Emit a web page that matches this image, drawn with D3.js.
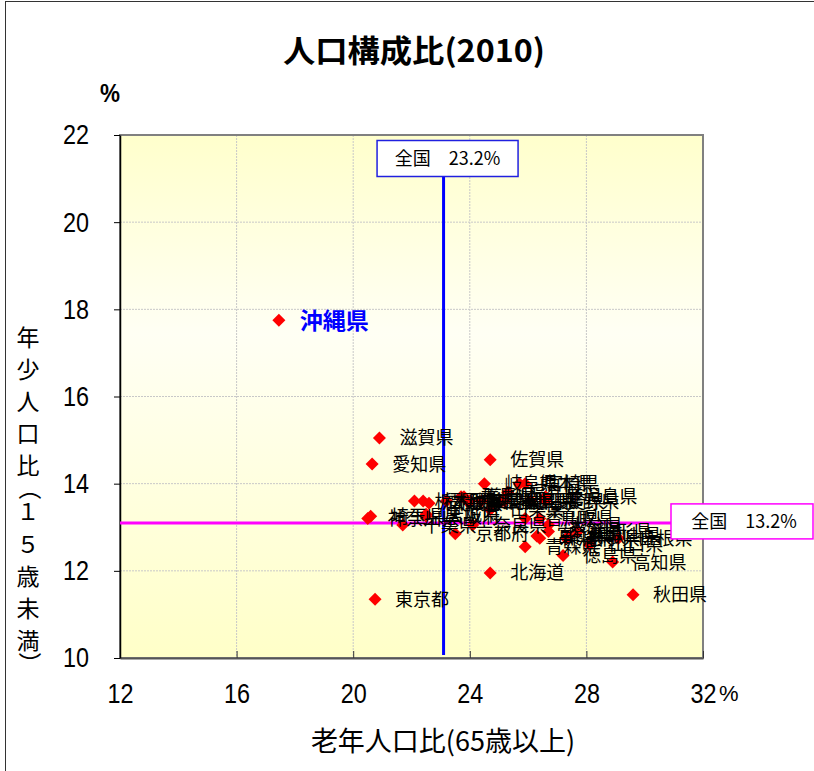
<!DOCTYPE html>
<html>
<head>
<meta charset="utf-8">
<script src="https://cdn.jsdelivr.net/npm/d3@7"></script>
<style>
  body { margin: 0; background: #fff; }
</style>
</head>
<body>
<div id="chart"></div>
<script>
// prefecture names, elderly ratio (65+) and youth ratio (<15), 2010, in %
var prefectures = ["北海道","青森県","岩手県","宮城県","秋田県","山形県","福島県","茨城県","栃木県","群馬県",
  "埼玉県","千葉県","東京都","神奈川県","新潟県","富山県","石川県","福井県","山梨県","長野県",
  "岐阜県","静岡県","愛知県","三重県","滋賀県","京都府","大阪府","兵庫県","奈良県","和歌山県",
  "鳥取県","島根県","岡山県","広島県","山口県","徳島県","香川県","愛媛県","高知県","福岡県",
  "佐賀県","長崎県","熊本県","大分県","宮崎県","鹿児島県","沖縄県"];
var oldRatio = [24.7,25.9,27.3,22.5,29.6,27.7,25.1,22.6,22.1,23.7,
  20.6,21.7,20.75,20.5,26.4,26.3,23.8,25.3,24.7,26.6,
  24.5,23.9,20.65,24.4,20.9,23.5,22.5,23.2,24.1,27.4,
  26.4,29.1,25.2,24.0,28.1,27.2,25.9,26.7,28.9,22.4,
  24.7,26.1,25.7,26.7,25.9,26.6,17.45];
var youngRatio = [11.95,12.55,12.75,13.3,11.45,12.9,13.6,13.55,13.6,13.7,
  13.25,13.05,11.35,13.2,12.75,12.8,13.7,13.8,13.4,13.6,
  14.0,13.6,14.45,13.6,15.05,12.85,13.25,13.6,13.05,12.8,
  13.2,12.75,13.6,13.6,12.6,12.35,13.2,12.9,12.2,13.6,
  14.55,13.6,14.0,13.05,14.0,13.7,17.75];
var highlight = "沖縄県";

var xTicks = [12, 16, 20, 24, 28, 32];
var yTicks = [10, 12, 14, 16, 18, 20, 22];

// national reference lines
var nationalOld = 23.1, nationalOldLabel = "全国　23.2%";
var nationalYoung = 13.1, nationalYoungLabel = "全国　13.2%";

var title = "人口構成比(2010)";
var xlabel = "老年人口比(65歳以上)";
var ylabelChars = ["年","少","人","口","比","（","１","５","歳","未","満","）"];

var data = prefectures.map(function(p, i) {
  return { name: p, x: oldRatio[i], y: youngRatio[i] };
});

var W = 814, H = 771;
var plot = { left: 120, right: 703, top: 135, bottom: 658 };
var cjk = "'Noto Sans CJK JP', sans-serif";
var sans = "'Liberation Sans', sans-serif";

var svg = d3.select("#chart").append("svg")
  .attr("width", W)
  .attr("height", H);

var x = d3.scaleLinear().domain([12, 32]).range([plot.left, plot.right]);
var y = d3.scaleLinear().domain([10, 22]).range([plot.bottom, plot.top]);

// outer frame
svg.append("rect")
  .attr("x", 5.5).attr("y", 1.5)
  .attr("width", 1000).attr("height", 1000)
  .attr("fill", "#fff")
  .attr("stroke", "#333")
  .attr("stroke-width", 1);

// plot background
var defs = svg.append("defs");
var grad = defs.append("linearGradient")
  .attr("id", "bg")
  .attr("x1", 0).attr("y1", 0).attr("x2", 0).attr("y2", 1);
grad.append("stop").attr("offset", "0").attr("stop-color", "#ffffcc");
grad.append("stop").attr("offset", "0.38").attr("stop-color", "#fffff4");
grad.append("stop").attr("offset", "1").attr("stop-color", "#ffffc8");

svg.append("rect")
  .attr("x", plot.left).attr("y", plot.top)
  .attr("width", plot.right - plot.left)
  .attr("height", plot.bottom - plot.top)
  .attr("fill", "url(#bg)");

// gridlines
svg.append("g").selectAll("line")
  .data(xTicks.slice(1, -1))
  .enter().append("line")
  .attr("x1", function(d) { return x(d); })
  .attr("x2", function(d) { return x(d); })
  .attr("y1", plot.top).attr("y2", plot.bottom)
  .attr("stroke", "#c8c8c8")
  .attr("stroke-dasharray", "2,1");

svg.append("g").selectAll("line")
  .data(yTicks.slice(1, -1))
  .enter().append("line")
  .attr("y1", function(d) { return y(d); })
  .attr("y2", function(d) { return y(d); })
  .attr("x1", plot.left).attr("x2", plot.right)
  .attr("stroke", "#c8c8c8")
  .attr("stroke-dasharray", "2,1");

// plot border
svg.append("rect")
  .attr("x", plot.left).attr("y", plot.top)
  .attr("width", plot.right - plot.left)
  .attr("height", plot.bottom - plot.top)
  .attr("fill", "none")
  .attr("stroke", "#808080")
  .attr("stroke-width", 2);

// axes (tick digits squeezed to look like a narrow face)
var squeeze = function(sel) {
  sel.attr("font-family", sans)
    .attr("font-size", 28)
    .attr("fill", "#000")
    .attr("lengthAdjust", "spacingAndGlyphs")
    .attr("textLength", function() { return this.textContent.length * 13; });
};

var xAxis = svg.append("g")
  .attr("transform", "translate(0," + plot.bottom + ")")
  .call(d3.axisBottom(x).tickValues(xTicks).tickSizeInner(-7).tickSizeOuter(0).tickPadding(25));
xAxis.select(".domain").attr("stroke", "#555").attr("stroke-width", 2);
xAxis.selectAll(".tick line").attr("stroke", "#333");
xAxis.selectAll("text").call(squeeze);

var yAxis = svg.append("g")
  .attr("transform", "translate(" + plot.left + ",0)")
  .call(d3.axisLeft(y).tickValues(yTicks).tickSizeInner(6).tickSizeOuter(0).tickPadding(25));
yAxis.select(".domain").attr("stroke", "#000").attr("stroke-width", 1.5);
yAxis.selectAll(".tick line").attr("stroke", "#000");
yAxis.selectAll("text").call(squeeze);

// % units
svg.append("text")
  .attr("x", 719).attr("y", 701)
  .attr("font-family", sans)
  .attr("font-size", 22)
  .text("%");

svg.append("text")
  .attr("x", 110).attr("y", 102)
  .attr("text-anchor", "middle")
  .attr("font-family", sans)
  .attr("font-weight", "bold")
  .attr("font-size", 26)
  .attr("lengthAdjust", "spacingAndGlyphs")
  .attr("textLength", 20)
  .text("%");

// title
svg.append("text")
  .attr("x", 414).attr("y", 62)
  .attr("text-anchor", "middle")
  .attr("font-family", cjk)
  .attr("font-weight", "bold")
  .attr("font-size", 31)
  .attr("lengthAdjust", "spacingAndGlyphs")
  .attr("textLength", 262)
  .text(title);

// x label
svg.append("text")
  .attr("x", 443).attr("y", 751)
  .attr("text-anchor", "middle")
  .attr("font-family", cjk)
  .attr("font-size", 27)
  .text(xlabel);

// y label, stacked characters
var charH = function(c) {
  if (c == "（" || c == "）") return 13;
  if (c == "１" || c == "５") return 33;
  return 32;
};
var yPos = 322;
ylabelChars.forEach(function(c) {
  var h = charH(c);
  var t = svg.append("text")
    .attr("x", 28)
    .attr("y", yPos + h / 2)
    .attr("dy", "0.36em")
    .attr("text-anchor", "middle")
    .attr("font-family", cjk)
    .attr("font-size", 23)
    .text(c);
  if (c == "（" || c == "）") {
    t.attr("transform", "rotate(90,28," + (yPos + h / 2) + ")").attr("dy", "0.3em");
  }
  yPos += h;
});

// national reference lines
var oldX = x(nationalOld), youngY = y(nationalYoung);

svg.append("line")
  .attr("x1", oldX).attr("x2", oldX)
  .attr("y1", 177).attr("y2", plot.bottom - 3)
  .attr("stroke", "#0000ff")
  .attr("stroke-width", 3);

svg.append("line")
  .attr("x1", plot.left).attr("x2", 671)
  .attr("y1", youngY).attr("y2", youngY)
  .attr("stroke", "#ff00ff")
  .attr("stroke-width", 3);

// markers
var diamond = "M0,-6.5L6.5,0L0,6.5L-6.5,0Z";
svg.append("g").selectAll("path")
  .data(data)
  .enter().append("path")
  .attr("d", diamond)
  .attr("transform", function(d) { return "translate(" + x(d.x) + "," + y(d.y) + ")"; })
  .attr("fill", "#ff0000");

// labels
svg.append("g").selectAll("text")
  .data(data)
  .enter().append("text")
  .attr("x", function(d) { return x(d.x) + (d.name == highlight ? 21 : 20); })
  .attr("y", function(d) { return y(d.y); })
  .attr("dy", "0.36em")
  .attr("font-family", cjk)
  .attr("font-size", function(d) { return d.name == highlight ? 23 : 18; })
  .attr("font-weight", function(d) { return d.name == highlight ? "bold" : "normal"; })
  .attr("fill", function(d) { return d.name == highlight ? "#0000ff" : "#000"; })
  .text(function(d) { return d.name; });

// reference label boxes
var topBox = svg.append("g").attr("transform", "translate(" + (oldX + 4) + ",158.5)");
topBox.append("rect")
  .attr("x", -70.5).attr("y", -18)
  .attr("width", 141).attr("height", 36)
  .attr("fill", "#fff")
  .attr("stroke", "#2020e0")
  .attr("stroke-width", 1.5);
topBox.append("text")
  .attr("text-anchor", "middle")
  .attr("dy", "0.36em")
  .attr("font-family", cjk)
  .attr("font-size", 18)
  .text(nationalOldLabel);

var rightBox = svg.append("g").attr("transform", "translate(671," + (youngY - 1.5) + ")");
rightBox.append("rect")
  .attr("x", 0).attr("y", -17.5)
  .attr("width", 142).attr("height", 35)
  .attr("fill", "#fff")
  .attr("stroke", "#ff00ff")
  .attr("stroke-width", 1.5);
rightBox.append("text")
  .attr("x", 73)
  .attr("text-anchor", "middle")
  .attr("dy", "0.36em")
  .attr("font-family", cjk)
  .attr("font-size", 18)
  .text(nationalYoungLabel);
</script>
</body>
</html>
